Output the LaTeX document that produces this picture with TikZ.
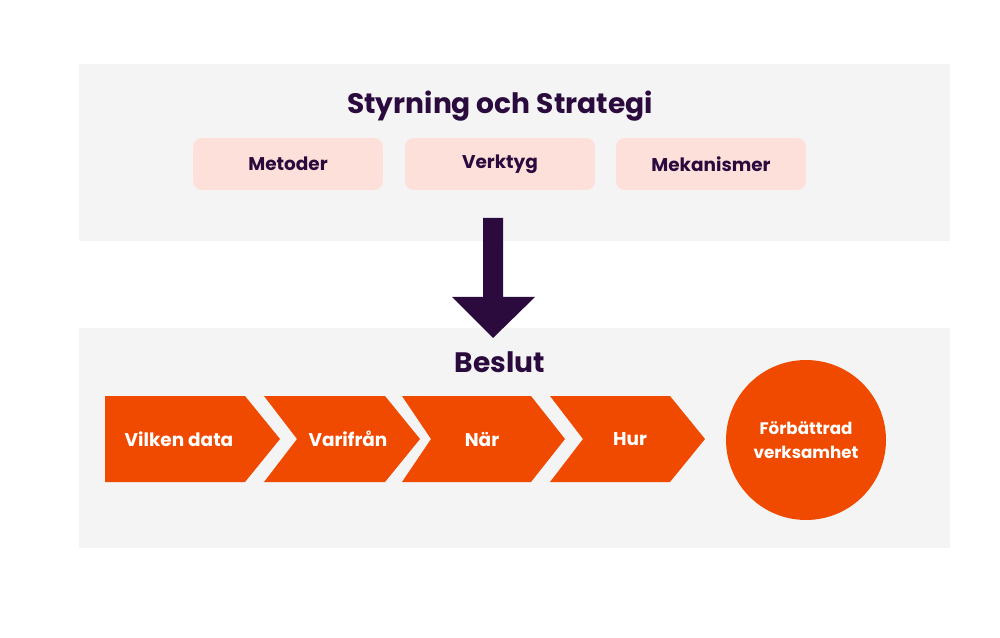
\documentclass[tikz,border=0pt]{standalone}
\usepackage{fontspec}
\setmainfont{Poppins}
\usepackage{tikz}
\usetikzlibrary{positioning}
\definecolor{orangeb}{HTML}{F04A00}
\definecolor{purpled}{HTML}{2B0A3D}
\definecolor{pinkb}{HTML}{FDE0DA}
\definecolor{grayp}{HTML}{F4F4F4}
\begin{document}
\begin{tikzpicture}[x=0.02cm,y=-0.02cm]
		\tikzstyle{panel}=[fill=grayp]
		\tikzstyle{tool}=[fill=pinkb,rounded corners=5pt,minimum width=3.8cm,minimum height=1.04cm,text=purpled,font=\bfseries\fontsize{10.5}{12}\selectfont]
		\tikzstyle{heading}=[text=purpled,font=\bfseries\fontsize{16}{18}\selectfont]
		\tikzstyle{steplabel}=[text=white,font=\bfseries\fontsize{10.5}{12}\selectfont]
		\useasboundingbox (0,0) rectangle (1000,638);
		
		\fill[panel] (79,64) rectangle (950,241);
		\fill[panel] (79,328) rectangle (950,548);
		
		\node[heading] (title) at (500,106) {Styrning och Strategi};
		\node[tool] (metoder)    at (288,164) {Metoder};
		\node[tool] (verktyg)    at (500,164) {Verktyg};
		\node[tool] (mekanismer) at (711,164) {Mekanismer};
		
		% big arrow
		\fill[purpled] (483,218) -- (503,218) -- (503,297) -- (535,297) -- (493,338)
		-- (452,297) -- (483,297) -- cycle;
		
		\node[heading] (beslut) at (500,362) {Beslut};
		
		% chevrons
		\fill[orangeb] (105,396) -- (245,396) -- (280,439) -- (245,482) -- (105,482) -- cycle;
		\fill[orangeb] (264,396) -- (385,396) -- (420,439) -- (385,482) -- (264,482) -- (297,439) -- cycle;
		\fill[orangeb] (402,396) -- (531,396) -- (565,439) -- (531,482) -- (402,482) -- (431,439) -- cycle;
		\fill[orangeb] (550,396) -- (670,396) -- (705,439) -- (670,482) -- (550,482) -- (583,439) -- cycle;
		
		\node[steplabel] (vilken)  at (179,439) {Vilken data};
		\node[steplabel] (varifran) at (348,439) {Varifrån};
		\node[steplabel] (nar)     at (482,439) {När};
		\node[steplabel] (hur)     at (630,439) {Hur};
		
		\node[circle,fill=orangeb,minimum size=3.2cm,inner sep=0pt,steplabel,align=center,
		font=\bfseries\fontsize{9.5}{14}\selectfont] (forbattrad) at (806,440) {Förbättrad\\verksamhet};
\end{tikzpicture}
\end{document}
